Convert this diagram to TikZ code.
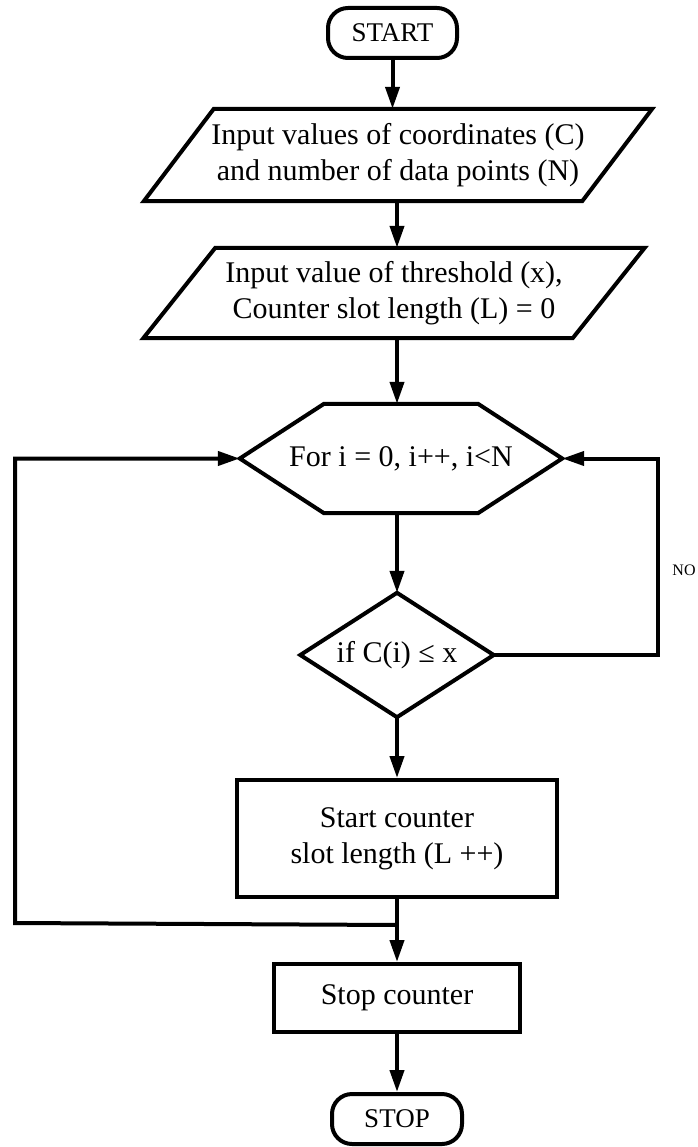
\documentclass[tikz,border=0pt]{standalone}
\usepackage{fontspec}
\setmainfont{Liberation Serif}
\usetikzlibrary{arrows.meta,calc}
\begin{document}
\begin{tikzpicture}[x=1pt,y=-1pt,
  every node/.style={font=\fontsize{30}{36}\selectfont, align=center, inner sep=0pt},
  line/.style={line width=4pt, line join=miter},
  arr/.style={line, -{Triangle[length=22pt,width=14pt]}},
  term/.style={draw, line, rounded corners=20pt, minimum height=50pt, font=\fontsize{27}{30}\selectfont},
  ghost/.style={draw=none},
  proc/.style={draw, line}
]
\useasboundingbox (0,0) rectangle (697,1147);

% nodes
\node[term, minimum width=129pt] (start) at (392.5,33) {START};

\node[ghost, minimum width=438pt, minimum height=92pt] (p1) at (398,155)
  {Input values of coordinates (C)\\and number of data points (N)};
\draw[line] ($(p1.north west)+(35,0)$) -- ($(p1.north east)+(35,0)$)
  -- ($(p1.south east)+(-35,0)$) -- ($(p1.south west)+(-35,0)$) -- cycle;

\node[ghost, minimum width=429pt, minimum height=90pt] (p2) at (394,293)
  {Input value of threshold (x),\\Counter slot length (L) = 0};
\draw[line] ($(p2.north west)+(36,0)$) -- ($(p2.north east)+(36,0)$)
  -- ($(p2.south east)+(-36,0)$) -- ($(p2.south west)+(-36,0)$) -- cycle;

\node[ghost, minimum width=322pt, minimum height=109pt] (hex) at (401,458.5)
  {For i = 0, i++, i<N};
\draw[line] (hex.west) -- ($(hex.north)+(-77,0)$) -- ($(hex.north)+(77,0)$)
  -- (hex.east) -- ($(hex.south)+(77,0)$) -- ($(hex.south)+(-77,0)$) -- cycle;

\node[ghost, minimum width=193pt, minimum height=124pt] (d) at (397,655)
  {if C(i) ≤ x};
\draw[line] (d.north) -- (d.east) -- (d.south) -- (d.west) -- cycle;

\node[proc, minimum width=320pt, minimum height=117pt] (b) at (397,838.5)
  {Start counter\\slot length (L ++)};

\node[proc, minimum width=246pt, minimum height=68pt] (sc) at (397,998)
  {Stop counter};

\node[term, minimum width=130pt] (stop) at (397,1119) {STOP};

\node[font=\fontsize{16}{16}\selectfont] (no) at (684,570) {NO};

% connectors
\draw[arr] (start.south) -- (start.south |- p1.north);
\draw[arr] (p1.south -| d.north) -- (d.north |- p2.north);
\draw[arr] (d.north |- p2.south) -- (d.north |- hex.north);
\draw[arr] (d.north |- hex.south) -- (d.north);
\draw[arr] (d.south) -- (b.north);
\draw[arr] (b.south) -- (sc.north);
\draw[arr] (sc.south) -- (stop.north);

\coordinate (j) at ($(b.south)+(0,26)$);
\coordinate (lc) at (15,923);
\draw[arr] (j) -- (lc) |- (hex.west);

\coordinate (nr) at (658,655);
\draw[arr] (d.east) -- (nr) |- (hex.east);
\end{tikzpicture}
\end{document}
